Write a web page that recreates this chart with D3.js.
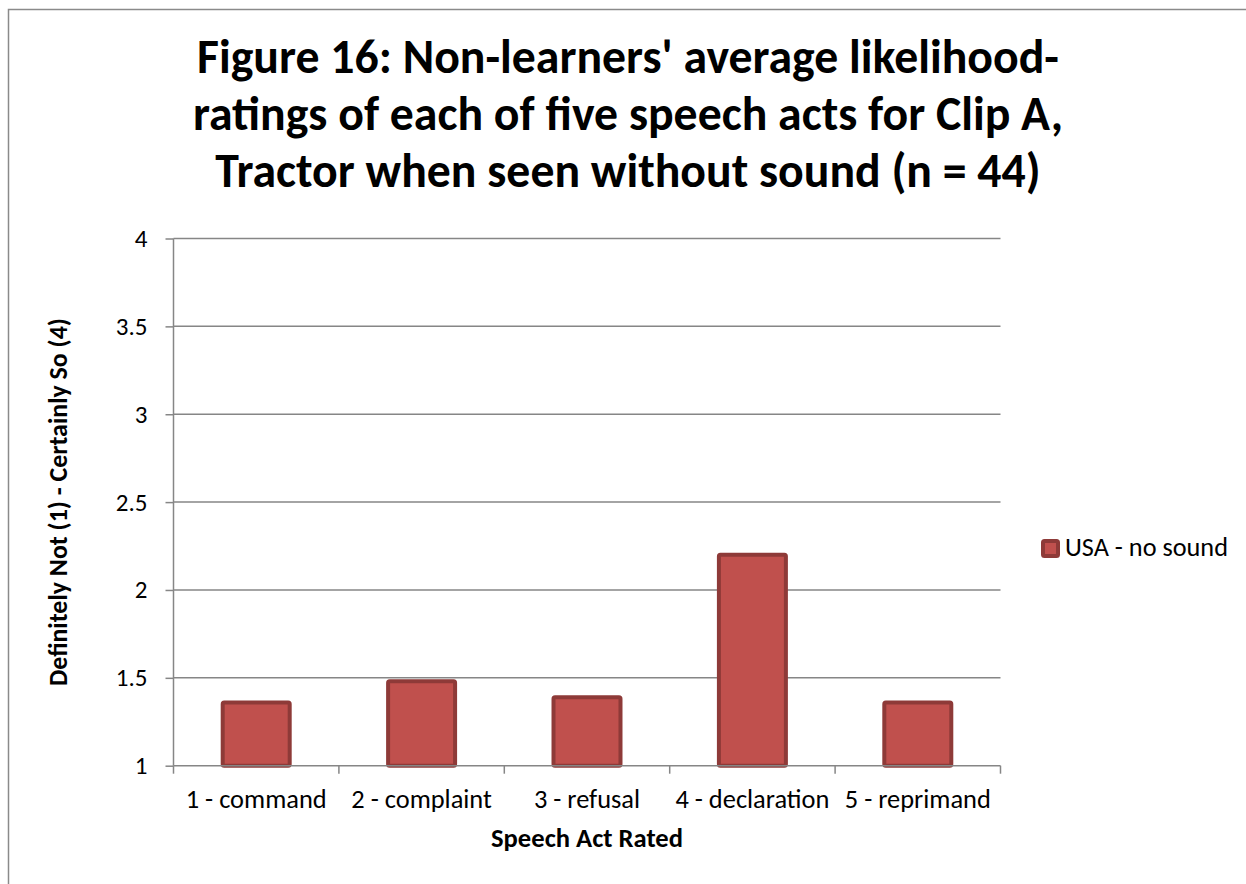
<!DOCTYPE html>
<html>
<head>
<meta charset="utf-8">
<script src="https://cdn.jsdelivr.net/npm/d3@7"></script>
<style>
  html, body { margin: 0; padding: 0; background: #fff; }
  svg { display: block; }
  text { font-family: Carlito, Lato, "Open Sans", sans-serif; fill: #000; }
</style>
</head>
<body>
<svg id="chart" width="1246" height="884"></svg>
<script>
const titleLines = [
  "Figure 16: Non-learners' average likelihood-",
  "ratings of each of five speech acts for Clip A,",
  "Tractor when seen without sound (n = 44)"
];
const categories = ["1 - command", "2 - complaint", "3 - refusal", "4 - declaration", "5 - reprimand"];
const seriesName = "USA - no sound";
const values = [1.36, 1.48, 1.39, 2.2, 1.36];
const yTicks = [1, 1.5, 2, 2.5, 3, 3.5, 4];
const yTitle = "Definitely Not (1) - Certainly So (4)";
const xTitle = "Speech Act Rated";

const svg = d3.select("#chart");
const plot = { left: 173.5, right: 1000.5, top: 238.5, bottom: 765.7 };
const gridColor = "#868686";
const fillColor = "#C0504D";
const strokeColor = "#8E3A38";
const fontStack = "Carlito, Lato, 'Open Sans', sans-serif";

// helper: fit font size so text width matches target
function fit(text, target, weight) {
  const t = svg.append("text").attr("font-size", 100).attr("font-weight", weight).text(text);
  const w = t.node().getComputedTextLength();
  t.remove();
  return 100 * target / w;
}

// outer border (right/bottom edges lie outside the picture)
svg.append("rect")
  .attr("x", 8.5).attr("y", 9.5)
  .attr("width", 1400).attr("height", 1000)
  .attr("fill", "none").attr("stroke", "#8a8a8a").attr("stroke-width", 1.5);

const x = d3.scaleBand().domain(categories).range([plot.left, plot.right]).paddingInner(0).paddingOuter(0);
const y = d3.scaleLinear().domain([1, 4]).range([plot.bottom, plot.top]);

// gridlines
svg.append("g").selectAll("line").data(yTicks.filter(d => d > 1)).join("line")
  .attr("x1", plot.left).attr("x2", plot.right)
  .attr("y1", d => y(d)).attr("y2", d => y(d))
  .attr("stroke", gridColor).attr("stroke-width", 1.5);

// bars
const strokeW = 4;
const barW = x.bandwidth() * 0.405;
svg.append("g").selectAll("rect").data(values).join("rect")
  .attr("x", (d, i) => x(categories[i]) + (x.bandwidth() - barW) / 2)
  .attr("y", d => y(d))
  .attr("width", barW)
  .attr("height", d => y(1) - y(d))
  .attr("rx", 1.5)
  .attr("fill", fillColor)
  .attr("stroke", strokeColor)
  .attr("stroke-width", strokeW);

// y axis
const yTickFs = fit("3.5", 31.7, "normal");
const yAxis = d3.axisLeft(y).tickValues(yTicks).tickSize(8).tickPadding(18).tickFormat(d3.format("~g"));
const gy = svg.append("g").attr("transform", `translate(${plot.left},0)`).call(yAxis);
gy.select(".domain").attr("stroke", gridColor).attr("stroke-width", 1.5).attr("d", `M0,${plot.top}V${plot.bottom}`);
gy.selectAll(".tick line").attr("stroke", gridColor).attr("stroke-width", 1.5);
gy.selectAll(".tick text").attr("font-size", yTickFs).attr("font-family", fontStack).attr("fill", "#000");

// x axis
const tickFs = fit("4 - declaration", 154, "normal");
const xAxis = d3.axisBottom(x).tickSize(0).tickPadding(0);
const gx = svg.append("g").attr("transform", `translate(0,${plot.bottom})`).call(xAxis);
gx.select(".domain").attr("stroke", gridColor).attr("stroke-width", 1.5).attr("d", `M${plot.left},0H${plot.right}`);
gx.selectAll(".tick text").attr("font-size", tickFs).attr("font-family", fontStack)
  .attr("fill", "#000").attr("dy", null).attr("y", 808 - plot.bottom);
// x tick marks at category boundaries
const bounds = categories.map(c => x(c)).concat([plot.right]);
gx.append("g").selectAll("line").data(bounds).join("line")
  .attr("x1", d => d).attr("x2", d => d).attr("y1", 0).attr("y2", 8)
  .attr("stroke", gridColor).attr("stroke-width", 1.5);

// title
const titleFs = fit(titleLines[1], 870, "bold");
svg.append("g").selectAll("text").data(titleLines).join("text")
  .attr("x", 628).attr("y", (d, i) => 73 + i * 57)
  .attr("text-anchor", "middle").attr("font-weight", "bold").attr("font-size", titleFs)
  .text(d => d);

// axis titles
const yTitleFs = fit(yTitle, 368, "bold");
svg.append("text")
  .attr("transform", `translate(67,${(plot.top + plot.bottom) / 2}) rotate(-90)`)
  .attr("text-anchor", "middle").attr("font-weight", "bold").attr("font-size", yTitleFs)
  .text(yTitle);
const xTitleFs = fit(xTitle, 192, "bold");
svg.append("text")
  .attr("x", (plot.left + plot.right) / 2).attr("y", 847)
  .attr("text-anchor", "middle").attr("font-weight", "bold").attr("font-size", xTitleFs)
  .text(xTitle);

// legend
const lg = svg.append("g");
lg.append("rect").attr("x", 1043).attr("y", 541).attr("width", 15).attr("height", 15).attr("rx", 1.5)
  .attr("fill", fillColor).attr("stroke", strokeColor).attr("stroke-width", 4);
const legFs = fit(seriesName, 163, "normal");
lg.append("text").attr("x", 1065).attr("y", 556).attr("font-size", legFs).text(seriesName);
</script>
</body>
</html>
